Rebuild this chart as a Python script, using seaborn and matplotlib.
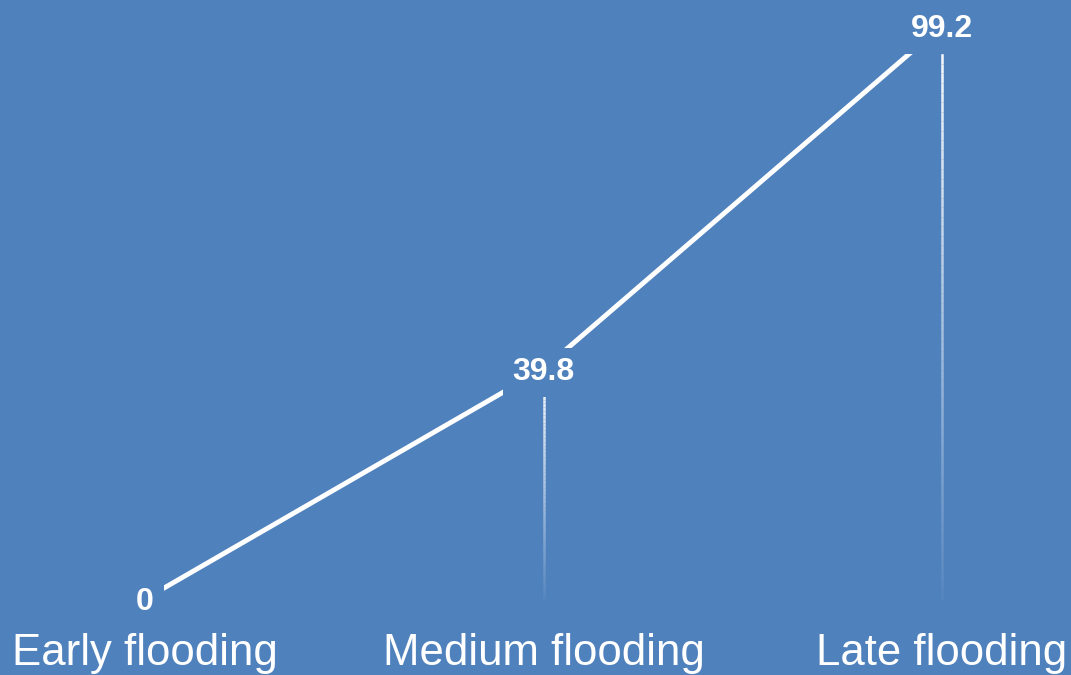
import numpy as np
import matplotlib.pyplot as plt
import seaborn as sns
import pandas as pd
from matplotlib.collections import LineCollection

# data
categories = ['Early flooding', 'Medium flooding', 'Late flooding']
values = [0, 39.8, 99.2]
value_labels = ['0', '39.8', '99.2']

bg = '#4f81bd'
sns.set_style('white', {'axes.facecolor': bg, 'figure.facecolor': bg})
plt.rcParams['font.family'] = ['Liberation Sans', 'DejaVu Sans']

df = pd.DataFrame({'pos': np.arange(len(categories)), 'value': values})

fig = plt.figure(figsize=(10.71, 6.75), dpi=100)
ax = fig.add_axes([0, 55 / 675, 1, 620 / 675])

# main line
sns.lineplot(data=df, x='pos', y='value', color='white', linewidth=3.5,
             ax=ax, zorder=2)

# drop lines fading out towards the bottom
n_seg = 60
for x, v in zip(df['pos'], df['value']):
    if v <= 0:
        continue
    ys = np.linspace(v, 0, n_seg + 1)
    segs = [[(x, ys[i]), (x, ys[i + 1])] for i in range(n_seg)]
    alphas = np.linspace(1, 0.05, n_seg)
    cols = [(1, 1, 1, a) for a in alphas]
    lc = LineCollection(segs, colors=cols, linewidths=1.8, zorder=1,
                        capstyle='butt')
    ax.add_collection(lc)

# value labels with a background box that cuts the line
for x, v, lab in zip(df['pos'], df['value'], value_labels):
    ax.text(x, v, lab, ha='center', va='center_baseline', color='white',
            fontsize=23, fontweight='bold', zorder=3,
            bbox=dict(boxstyle='square,pad=0.3', facecolor=bg, edgecolor='none'))

ax.set_xlim(-145 / 398.5, (1071 - 145) / 398.5)
ax.set_ylim(-21 / 5.78, (620 - 21) / 5.78)
ax.set_xticks(df['pos'])
ax.set_xticklabels(categories, fontsize=31.5, color='white')
ax.tick_params(axis='x', length=0, pad=9)
ax.set_yticks([])
ax.set_xlabel('')
ax.set_ylabel('')
for s in ax.spines.values():
    s.set_visible(False)

fig.savefig('out.png', dpi=100, facecolor=bg)
